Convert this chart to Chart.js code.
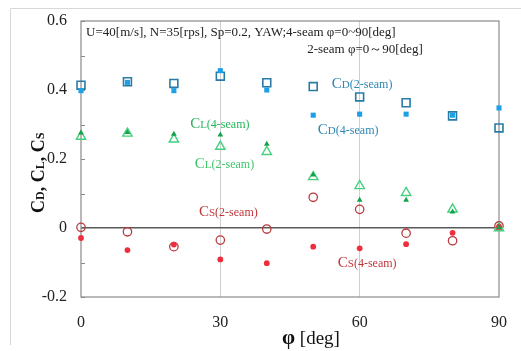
<!DOCTYPE html>
<html>
<head>
<meta charset="utf-8">
<script src="https://cdn.jsdelivr.net/npm/chart.js@4"></script>
<style>
  html, body { margin: 0; padding: 0; background: #fff; }
  canvas { display: block; }
</style>
</head>
<body>
<canvas id="chart" width="521" height="351"></canvas>
<script>
// yaw angle phi [deg]
const angles = [0, 10, 20, 30, 40, 50, 60, 70, 80, 90];

const cd2seam = [0.414, 0.424, 0.419, 0.440, 0.421, 0.410, 0.380, 0.363, 0.325, 0.290];
const cd4seam = [0.398, 0.422, 0.398, 0.456, 0.400, 0.327, 0.330, 0.330, 0.327, 0.348];
const cl2seam = [0.265, 0.274, 0.257, 0.236, 0.221, 0.148, 0.122, 0.102, 0.054, 0.000];
const cl4seam = [0.276, 0.277, 0.272, 0.270, 0.243, 0.154, 0.081, 0.081, 0.047, 0.002];
const cs2seam = [0.002, -0.011, -0.054, -0.035, -0.003, 0.089, 0.054, -0.015, -0.037, 0.006];
const cs4seam = [-0.029, -0.064, -0.048, -0.091, -0.102, -0.054, -0.059, -0.047, -0.014, 0.004];

const xTicks = [0, 30, 60, 90];
const yLabelTicks = [-0.2, 0, 0.2, 0.4, 0.6];

const serif = '"Liberation Serif", "DejaVu Serif", serif';

function pts(ys) {
    return angles.map((a, i) => ({ x: a, y: ys[i] }));
}

// rich text pieces: [text, font]
function drawRich(ctx, x, y, parts, color) {
    ctx.fillStyle = color;
    ctx.textBaseline = 'alphabetic';
    ctx.textAlign = 'left';
    let cx = x;
    parts.forEach(p => {
        ctx.font = p[1];
        ctx.fillText(p[0], cx, y);
        cx += ctx.measureText(p[0]).width;
    });
    return cx - x;
}

function seriesLabel(sub, tag) {
    return [
        ['C', '15px ' + serif],
        [sub, '11px ' + serif],
        ['(' + tag + ')', '12px ' + serif]
    ];
}

const notes = [
    { x: 54.0, y: 0.405, parts: seriesLabel('D', '2-seam'), color: '#2f86b3' },
    { x: 51.0, y: 0.272, parts: seriesLabel('D', '4-seam'), color: '#2f86b3' },
    { x: 23.5, y: 0.289, parts: seriesLabel('L', '4-seam'), color: '#27b55a' },
    { x: 24.5, y: 0.173, parts: seriesLabel('L', '2-seam'), color: '#3fc76a' },
    { x: 25.4, y: 0.034, parts: seriesLabel('S', '2-seam'), color: '#c0353a' },
    { x: 55.3, y: -0.114, parts: seriesLabel('S', '4-seam'), color: '#c0353a' }
];

const overlay = {
    id: 'overlay',
    beforeDraw(chart) {
        const ctx = chart.ctx;
        ctx.save();
        // faint frame of the scanned figure
        ctx.strokeStyle = '#d8d8d8';
        ctx.lineWidth = 1;
        ctx.beginPath();
        ctx.moveTo(10.5, 345);
        ctx.lineTo(10.5, 8.5);
        ctx.lineTo(521, 8.5);
        ctx.stroke();
        ctx.restore();
    },
    beforeDatasetsDraw(chart) {
        const ctx = chart.ctx;
        const ys = chart.scales.y;
        const a = chart.chartArea;
        ctx.save();
        // plot box
        ctx.strokeStyle = '#8a8a8a';
        ctx.lineWidth = 1.2;
        ctx.strokeRect(a.left, a.top, a.right - a.left, a.bottom - a.top);
        // inner ticks on left axis
        ctx.beginPath();
        ys.ticks.forEach(t => {
            const py = Math.round(ys.getPixelForValue(t.value)) + 0.5;
            ctx.moveTo(a.left, py);
            ctx.lineTo(a.left + 4, py);
        });
        ctx.stroke();
        ctx.restore();
    },
    afterDatasetsDraw(chart) {
        const ctx = chart.ctx;
        const xs = chart.scales.x;
        const ys = chart.scales.y;
        ctx.save();

        // condition text
        ctx.fillStyle = '#222';
        ctx.font = '13px ' + serif;
        ctx.textBaseline = 'alphabetic';
        ctx.fillText('U=40[m/s], N=35[rps], Sp=0.2, YAW;4-seam \u03c6=0~90[deg]',
            xs.getPixelForValue(1.1), ys.getPixelForValue(0.556));
        ctx.fillText('2-seam \u03c6=0\uff5e90[deg]',
            xs.getPixelForValue(48.7), ys.getPixelForValue(0.508));

        // series labels
        notes.forEach(n => {
            drawRich(ctx, xs.getPixelForValue(n.x), ys.getPixelForValue(n.y), n.parts, n.color);
        });

        // x axis title
        drawRich(ctx, 282, 344, [
            ['\u03c6', 'bold 21px ' + serif],
            [' [deg]', '19px ' + serif]
        ], '#111');

        // y axis title (rotated)
        ctx.save();
        ctx.translate(44, 213);
        ctx.rotate(-Math.PI / 2);
        drawRich(ctx, 0, 0, [
            ['C', 'bold 18px ' + serif], ['D', 'bold 12px ' + serif],
            [', C', 'bold 18px ' + serif], ['L', 'bold 12px ' + serif],
            [', C', 'bold 18px ' + serif], ['S', 'bold 12px ' + serif]
        ], '#111');
        ctx.restore();

        ctx.restore();
    }
};

const ctx = document.getElementById('chart').getContext('2d');

new Chart(ctx, {
    type: 'scatter',
    data: {
        datasets: [
            {
                label: 'CD(4-seam)', data: pts(cd4seam),
                pointStyle: 'rect', pointRadius: 3.6,
                backgroundColor: '#1ea0e6', borderColor: '#1ea0e6', borderWidth: 0
            },
            {
                label: 'CL(4-seam)', data: pts(cl4seam),
                pointStyle: 'triangle', pointRadius: 3.3,
                backgroundColor: '#12a34a', borderColor: '#12a34a', borderWidth: 0
            },
            {
                label: 'CS(4-seam)', data: pts(cs4seam),
                pointStyle: 'circle', pointRadius: 2.9,
                backgroundColor: '#ee2e3c', borderColor: '#ee2e3c', borderWidth: 0
            },
            {
                label: 'CD(2-seam)', data: pts(cd2seam),
                pointStyle: 'rect', pointRadius: 5.6,
                backgroundColor: 'rgba(0,0,0,0)', borderColor: '#2a7aa6', borderWidth: 1.6
            },
            {
                label: 'CL(2-seam)', data: pts(cl2seam),
                pointStyle: 'triangle', pointRadius: 5.4,
                backgroundColor: 'rgba(0,0,0,0)', borderColor: '#44d07e', borderWidth: 1.4
            },
            {
                label: 'CS(2-seam)', data: pts(cs2seam),
                pointStyle: 'circle', pointRadius: 4.2,
                backgroundColor: 'rgba(0,0,0,0)', borderColor: '#b83a3e', borderWidth: 1.3
            }
        ]
    },
    options: {
        responsive: false,
        animation: false,
        clip: false,
        layout: { padding: { left: 0, right: 22, top: 21, bottom: 0 } },
        plugins: {
            legend: { display: false },
            tooltip: { enabled: false }
        },
        scales: {
            x: {
                type: 'linear', min: 0, max: 90,
                afterBuildTicks(scale) {
                    scale.ticks = xTicks.map(v => ({ value: v }));
                },
                afterFit(scale) {
                    scale.height = 54;
                    scale.paddingLeft = 0;
                    scale.paddingRight = 0;
                },
                ticks: {
                    padding: 16,
                    color: '#222',
                    font: { family: serif, size: 16 }
                },
                grid: {
                    drawTicks: false,
                    lineWidth: 1,
                    color: c => (c.tick && (c.tick.value === 30 || c.tick.value === 60)) ? '#cfcfcf' : 'rgba(0,0,0,0)'
                },
                border: { display: false }
            },
            y: {
                type: 'linear', min: -0.2, max: 0.6,
                ticks: {
                    stepSize: 0.1,
                    padding: 14,
                    color: '#222',
                    font: { family: serif, size: 16 },
                    callback(v) {
                        const r = Math.round(v * 10) / 10;
                        return yLabelTicks.some(t => Math.abs(t - r) < 1e-6) ? String(r) : '';
                    }
                },
                afterFit(scale) {
                    scale.width = 81;
                    scale.paddingTop = 0;
                    scale.paddingBottom = 0;
                },
                grid: {
                    drawTicks: false,
                    lineWidth: 1.5,
                    color: c => (c.tick && Math.abs(c.tick.value) < 1e-6) ? '#5a5a5a' : 'rgba(0,0,0,0)'
                },
                border: { display: false }
            }
        }
    },
    plugins: [overlay]
});
</script>
</body>
</html>
